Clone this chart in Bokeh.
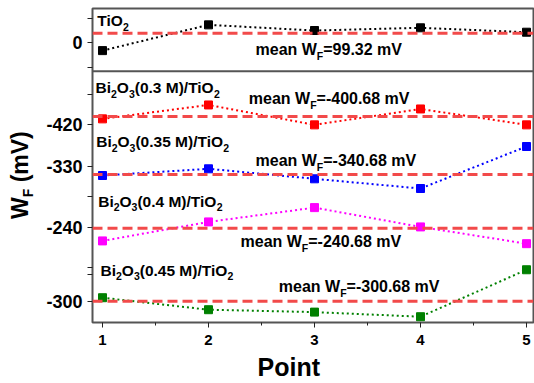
from math import pi

from bokeh.embed import file_html
from bokeh.layouts import column, row
from bokeh.models import FixedTicker, Label, Range1d, Span
from bokeh.plotting import figure
from bokeh.resources import INLINE

# ---- data -------------------------------------------------------------
POINTS = [1, 2, 3, 4, 5]

TIO2 = [64.5, 116.0, 104.7, 110.1, 101.3]
BI_030 = [-405.4, -377.6, -417.4, -385.6, -417.4]
BI_035 = [-342.7, -329.3, -349.3, -368.7, -284.7]
BI_040 = [-266.1, -228.1, -199.5, -238.1, -271.6]
BI_045 = [-293.7, -317.7, -322.5, -331.7, -237.8]

MEANS = [99.32, -400.68, -340.68, -240.68, -300.68]

SERIES = [TIO2, BI_030, BI_035, BI_040, BI_045]
COLORS = ["#000000", "#ff0000", "#0000ff", "#ff00ff", "#008000"]

# sample names as (text, is_subscript) pieces
NAMES = [
    [("TiO", False), ("2", True)],
    [("Bi", False), ("2", True), ("O", False), ("3", True), ("(0.3 M)/TiO", False), ("2", True)],
    [("Bi", False), ("2", True), ("O", False), ("3", True), ("(0.35 M)/TiO", False), ("2", True)],
    [("Bi", False), ("2", True), ("O", False), ("3", True), ("(0.4 M)/TiO", False), ("2", True)],
    [("Bi", False), ("2", True), ("O", False), ("3", True), ("(0.45 M)/TiO", False), ("2", True)],
]

TICK_TEXT = ["", "0", "", "", "-420", "-330", "", "-240", "", "", "-300"]

# ---- layout -----------------------------------------------------------
W, H = 534, 383
TITLE_W = 40                      # strip on the left holding the y title
MAIN_H = 352                      # main plot height; "Point" strip below
FRAME_L, FRAME_R, FRAME_T, FRAME_B = 92, 533, 8, 322
X_START, X_END = 1 - 10 / 106, 5 + 7 / 106

# each sample sits in its own row of the stacked display; 1 display unit = 1 px
ROW_CENTER = [32.7, 116.0, 174.0, 227.7, 300.7]
MV_PER_UNIT = 2.0
PANEL_SPLIT = 70.7
TICK_POS = [18.0, 42.0, 67.0, 94.0, 124.0, 166.0, 196.0, 227.0, 267.0, 274.0, 301.0]

NAME_POS = [(96.7, 25.7), (95.0, 92.3), (95.7, 146.7), (97.7, 206.0), (100.0, 275.0)]
MEAN_POS = [(255.0, 55.0), (248.3, 103.3), (255.0, 165.7), (240.0, 246.7), (278.3, 291.7)]

FONT = "Liberation Sans"
BASELINE_FIX = 0.35               # label anchor sits this many em above the glyph baseline

# Liberation Sans Bold advance widths (em)
ADV = {
    " ": 0.278, "(": 0.333, ")": 0.333, "-": 0.333, ".": 0.278, "/": 0.278,
    "=": 0.584, "B": 0.722, "F": 0.611, "M": 0.833, "O": 0.778, "T": 0.611,
    "V": 0.667, "W": 0.944, "P": 0.667, "a": 0.556, "e": 0.556, "i": 0.278,
    "m": 0.889, "n": 0.611, "o": 0.611, "t": 0.333,
}


def text_width(s, size):
    return sum(ADV.get(c, 0.556) for c in s) * size


def xd(px):
    return X_START + (px - FRAME_L) * (X_END - X_START) / (FRAME_R - FRAME_L)


def ident(px):
    return px


def to_display(row_i, v):
    return ROW_CENTER[row_i] - (v - MEANS[row_i]) / MV_PER_UNIT


def rich_text(p, pieces, x_px, base_px, size, sub_size, sub_drop,
              vertical=False, fx=xd, y_shift=0.0):
    """Lay out bold text pieces along a baseline; subscripts are smaller and dropped."""
    cursor = x_px if not vertical else base_px
    for txt, sub in pieces:
        s = sub_size if sub else size
        drop = sub_drop if sub else 0
        lift = BASELINE_FIX * s
        lead = len(txt) - len(txt.lstrip(" "))
        gap = lead * ADV[" "] * s
        txt = txt.lstrip(" ")
        if vertical:
            cursor -= gap
            lab = Label(x=fx(x_px + drop - lift), y=cursor - y_shift, text=txt, angle=pi / 2)
            cursor -= text_width(txt, s)
        else:
            cursor += gap
            lab = Label(x=fx(cursor), y=base_px + drop - lift - y_shift, text=txt)
            cursor += text_width(txt, s)
        lab.text_font = FONT
        lab.text_font_style = "bold"
        lab.text_font_size = f"{s}px"
        lab.text_color = "#000000"
        lab.text_baseline = "alphabetic"
        lab.text_align = "left"
        p.add_layout(lab)


def blank_figure(w, h, y_range):
    f = figure(width=w, height=h, output_backend="svg", toolbar_location=None,
               x_range=Range1d(0, w), y_range=y_range,
               x_axis_location=None, y_axis_location=None, min_border=0)
    f.xgrid.visible = False
    f.ygrid.visible = False
    f.outline_line_color = None
    f.background_fill_color = "white"
    f.border_fill_color = "white"
    return f


p = figure(
    width=W - TITLE_W, height=MAIN_H, output_backend="svg", toolbar_location=None,
    x_range=Range1d(X_START, X_END),
    y_range=Range1d(FRAME_B, FRAME_T),
    min_border_left=FRAME_L - TITLE_W, min_border_right=W - FRAME_R,
    min_border_top=FRAME_T, min_border_bottom=MAIN_H - FRAME_B,
)
p.background_fill_color = "white"
p.border_fill_color = "white"
p.xgrid.visible = False
p.ygrid.visible = False
p.outline_line_color = "#555555"
p.outline_line_width = 2

# axes
xa = p.xaxis[0]
xa.ticker = FixedTicker(ticks=POINTS, minor_ticks=[1.5, 2.5, 3.5, 4.5])
xa.axis_line_color = None
xa.major_tick_in = 0
xa.major_tick_out = 5
xa.minor_tick_in = 0
xa.minor_tick_out = 3
xa.major_tick_line_color = "#222222"
xa.minor_tick_line_color = "#222222"
xa.major_label_text_font = FONT
xa.major_label_text_font_style = "bold"
xa.major_label_text_font_size = "15px"
xa.major_label_text_color = "#000000"
xa.major_label_standoff = 7

ya = p.yaxis[0]
ya.ticker = FixedTicker(ticks=TICK_POS, minor_ticks=[])
ya.major_label_overrides = {t: s for t, s in zip(TICK_POS, TICK_TEXT)}
ya.axis_line_color = None
ya.major_tick_in = 0
ya.major_tick_out = 5
ya.major_tick_line_color = "#222222"
ya.major_label_text_font = FONT
ya.major_label_text_font_style = "bold"
ya.major_label_text_font_size = "18px"
ya.major_label_text_color = "#000000"
ya.major_label_standoff = 5

# divider between the TiO2 panel and the Bi2O3 panel
p.add_layout(Span(location=PANEL_SPLIT, dimension="width", line_color="#555555", line_width=2))

for i, (vals, color) in enumerate(zip(SERIES, COLORS)):
    ys = [to_display(i, v) for v in vals]
    p.add_layout(Span(location=to_display(i, MEANS[i]), dimension="width",
                      line_color="#f24a4a", line_width=3, line_dash="10 5"))
    p.line(POINTS, ys, line_color=color, line_width=2, line_dash="2 3")
    p.scatter(POINTS, ys, marker="square", size=8, fill_color=color, line_color=color)

    nx, ny = NAME_POS[i]
    rich_text(p, NAMES[i], nx, ny, 15.5, 10.5, 4.5)
    mx, my = MEAN_POS[i]
    mean_txt = [("mean W", False), ("F", True), (f"={MEANS[i]:.2f} mV", False)]
    rich_text(p, mean_txt, mx, my, 16, 10.5, 4.5)

# y title, rotated, in a strip on the left (its frame lines up with the main frame)
ytitle = blank_figure(TITLE_W, MAIN_H, Range1d(FRAME_B, FRAME_T))
rich_text(ytitle, [("W", False), ("F", True), (" (mV)", False)], 27.7, 218.5, 23, 14, 5,
          vertical=True, fx=ident)

# x title in a strip under the plot
xtitle = blank_figure(W, H - MAIN_H, Range1d(H - MAIN_H, 0))
rich_text(xtitle, [("Point", False)], 257.0, 375.0, 25, 25, 0, fx=ident, y_shift=MAIN_H)

layout = column(row(ytitle, p, spacing=0), xtitle, spacing=0)

open("out.html", "w").write(file_html(layout, INLINE))
